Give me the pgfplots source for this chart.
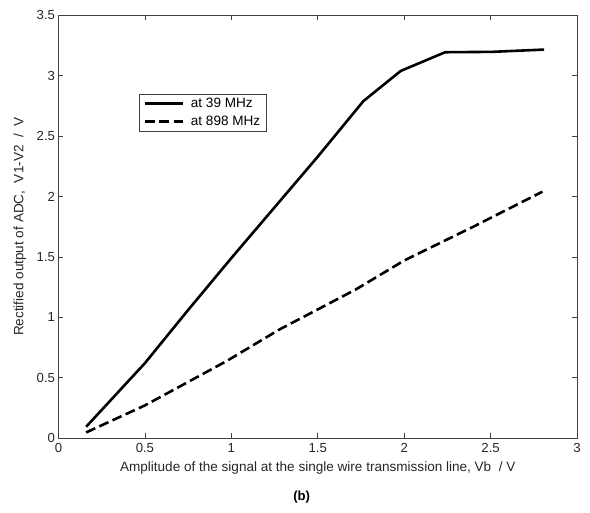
\documentclass[border=0pt]{standalone}
\usepackage{pgfplots}
\pgfplotsset{compat=1.18}
\usepackage{fontspec}
\setmainfont{Liberation Sans}
\begin{document}
\begin{tikzpicture}
\useasboundingbox (-58.5bp,-75bp) rectangle (531.5bp,438bp);
\begin{axis}[
  at={(0,0)}, anchor=south west,
  scale only axis, width=518.5bp, height=422.6bp,
  xmin=0, xmax=3, ymin=0, ymax=3.5,
  xtick={0,0.5,...,3}, ytick={0,0.5,...,3.5},
  tick align=inside, major tick length=5bp,
  axis line style={black!75, line width=0.6bp},
  every tick/.style={black!75, line width=0.6bp},
  tick label style={font=\fontsize{13.2}{15}\selectfont, text=black!85},
  xticklabel style={yshift=-1.5bp},
  /pgf/number format/assume math mode=true,
  xlabel={Amplitude of the signal at the single wire transmission line, Vb\ \ / V},
  ylabel={Rectified output of ADC,\ \ V1-V2\ \ /\ \ V},
  label style={font=\fontsize{13.6}{15}\selectfont, text=black!85},
  xlabel style={at={(axis description cs:0.5,0)}, anchor=center, yshift=-30bp},
  ylabel style={at={(axis description cs:-0.0743,0.5)}, anchor=center},
  legend style={at={(axis cs:0.466,2.85)}, anchor=north west, draw=black!75, line width=0.6bp,
    font=\fontsize{13.6}{16}\selectfont, inner xsep=4bp, inner ysep=2bp, row sep=3bp,
    /tikz/every odd column/.append style={column sep=5bp}},
  legend cell align=left,
  legend image code/.code={\draw[#1] (0bp,0bp) -- (38bp,0bp);},
]
\addplot[black, line width=2.6bp, line join=round] coordinates {
(0.16,0.093) (0.3,0.31) (0.5,0.62) (0.75,1.06) (1.0,1.49) (1.5,2.33) (1.764,2.79) (1.98,3.04) (2.237,3.195) (2.507,3.198) (2.81,3.217)
};
\addlegendentry{at 39 MHz}
\addplot[black, line width=2.6bp, dash pattern=on 10bp off 4.5bp] coordinates {
(0.16,0.046) (0.5,0.27) (0.97,0.635) (1.28,0.90) (1.72,1.23) (2.0,1.47) (2.4,1.75) (2.8,2.04)
};
\addlegendentry{at 898 MHz}
\end{axis}
\node[font=\bfseries\fontsize{13.2}{15}\selectfont] at (243.2bp,-58.7bp) {(b)};
\end{tikzpicture}
\end{document}
